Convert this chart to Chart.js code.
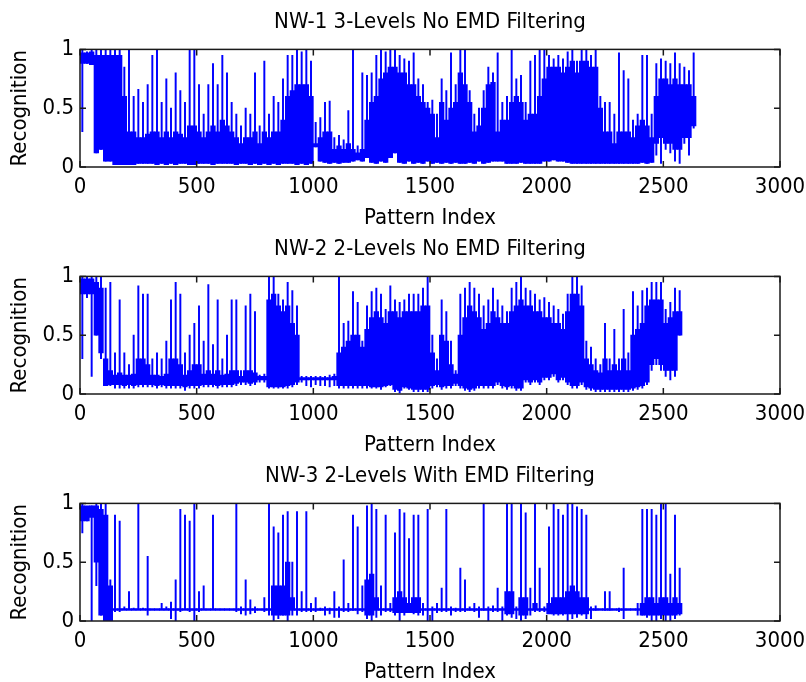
<!DOCTYPE html>
<html>
<head>
<meta charset="utf-8">
<title>Recognition per pattern index</title>
<script src="https://cdn.jsdelivr.net/npm/chart.js@4.4.1/dist/chart.umd.min.js"></script>
<style>
  body {
    margin: 0;
    background: #ffffff;
  }
  .panel {
    position: absolute;
    left: 0;
    width: 806px;
    height: 227px;
  }
</style>
</head>
<body>
<div class="panel" style="top:0px"><canvas id="nw1" width="806" height="227"></canvas></div>
<div class="panel" style="top:227px"><canvas id="nw2" width="806" height="227"></canvas></div>
<div class="panel" style="top:454px"><canvas id="nw3" width="806" height="227"></canvas></div>
<script>
// one entry per bin of 20 patterns:
//   peak / dip  = highest and lowest recognition reached inside the bin
//   bandTop / bandBottom = the range the trace fills solidly inside the bin
const binSize = 20;

const xTickValues = [0, 500, 1000, 1500, 2000, 2500, 3000];
const yTickValues = [0, 0.5, 1];
const yTickLabels = ["0", "0.5", "1"];

const panelTitles = [
  "NW-1 3-Levels No EMD Filtering",
  "NW-2 2-Levels No EMD Filtering",
  "NW-3 2-Levels With EMD Filtering",
];

const nw1Peak = [
  1.0, 0.98, 1.0, 1.0, 1.0, 1.0, 1.0, 1.0, 1.0, 0.85,
  1.0, 0.6, 0.66, 0.55, 0.7, 0.95, 1.0, 0.55, 0.75, 0.5,
  0.8, 0.65, 0.55, 1.0, 1.0, 0.7, 0.45, 0.7, 0.88, 0.7,
  0.95, 0.8, 0.55, 0.45, 0.35, 0.5, 0.45, 0.8, 0.35, 0.9,
  0.45, 0.6, 0.55, 0.75, 0.95, 0.95, 1.0, 0.98, 1.0, 0.9,
  0.38, 0.42, 0.55, 0.56, 0.25, 0.27, 0.23, 0.48, 1.0, 0.18,
  0.8, 0.78, 0.8, 0.95, 1.0, 0.98, 1.0, 1.0, 0.95, 0.92,
  0.9, 0.97, 0.75, 0.7, 0.55, 0.57, 0.45, 0.75, 0.65, 0.97,
  0.7, 1.0, 1.0, 0.65, 0.45, 0.5, 0.65, 0.85, 0.8, 0.97,
  0.55, 0.6, 1.0, 0.75, 0.78, 0.55, 0.9, 0.95, 1.0, 1.0,
  0.95, 0.92, 0.95, 0.92, 0.98, 1.0, 0.9, 1.0, 1.0, 0.95,
  1.0, 0.6, 0.55, 0.55, 0.45, 0.97, 0.82, 0.75, 0.4, 0.45,
  0.95, 0.95, 0.45, 0.88, 0.92, 0.9, 0.88, 0.97, 0.88, 0.85,
  0.82, 0.97,
];
const nw1BandTop = [
  0.97, 0.97, 0.98, 0.95, 0.95, 0.95, 0.95, 0.95, 0.95, 0.6,
  0.3, 0.3, 0.25, 0.25, 0.28, 0.3, 0.3, 0.25, 0.3, 0.25,
  0.3, 0.28, 0.25, 0.35, 0.35, 0.3, 0.25, 0.3, 0.35, 0.3,
  0.4, 0.35, 0.3, 0.25, 0.2, 0.25, 0.25, 0.3, 0.2, 0.3,
  0.25, 0.3, 0.3, 0.4, 0.6, 0.65, 0.7, 0.7, 0.7, 0.6,
  0.2, 0.25, 0.3, 0.3, 0.15, 0.18, 0.15, 0.2, 0.15, 0.12,
  0.15, 0.4, 0.55, 0.6, 0.75, 0.8, 0.85, 0.85, 0.8, 0.8,
  0.7, 0.7, 0.6, 0.55, 0.5, 0.45, 0.25, 0.55, 0.4, 0.5,
  0.55, 0.8, 0.7, 0.55, 0.3, 0.35, 0.5, 0.7, 0.72, 0.3,
  0.4, 0.4, 0.55, 0.6, 0.55, 0.4, 0.45, 0.45, 0.6, 0.75,
  0.85, 0.85, 0.85, 0.8, 0.85, 0.9, 0.8, 0.9, 0.9, 0.85,
  0.85, 0.5, 0.3, 0.3, 0.2, 0.3, 0.3, 0.3, 0.25, 0.35,
  0.4, 0.35, 0.25, 0.6, 0.75, 0.75, 0.7, 0.75, 0.7, 0.7,
  0.7, 0.6,
];
const nw1BandBottom = [
  0.88, 0.88, 0.87, 0.12, 0.15, 0.05, 0.05, 0.02, 0.02, 0.02,
  0.02, 0.02, 0.03, 0.03, 0.03, 0.03, 0.02, 0.03, 0.02, 0.03,
  0.02, 0.03, 0.03, 0.02, 0.02, 0.03, 0.03, 0.03, 0.02, 0.03,
  0.03, 0.03, 0.03, 0.02, 0.03, 0.03, 0.02, 0.03, 0.02, 0.03,
  0.02, 0.03, 0.02, 0.03, 0.03, 0.03, 0.02, 0.03, 0.02, 0.03,
  0.17, 0.05, 0.04, 0.03, 0.04, 0.03, 0.04, 0.04, 0.05, 0.06,
  0.05, 0.08, 0.04, 0.03, 0.05, 0.04, 0.08, 0.12, 0.04, 0.03,
  0.05, 0.03, 0.04, 0.03, 0.05, 0.03, 0.04, 0.03, 0.04, 0.03,
  0.04, 0.03, 0.03, 0.04, 0.03, 0.05, 0.03, 0.04, 0.05, 0.05,
  0.05, 0.03, 0.03, 0.03, 0.04, 0.03, 0.03, 0.03, 0.03, 0.05,
  0.05, 0.06, 0.05, 0.05, 0.04, 0.03, 0.03, 0.03, 0.03, 0.03,
  0.03, 0.03, 0.03, 0.03, 0.03, 0.03, 0.03, 0.03, 0.03, 0.03,
  0.04, 0.03, 0.04, 0.2, 0.25, 0.2, 0.2, 0.15, 0.15, 0.25,
  0.25, 0.35,
];
const nw1Dip = [
  0.3, 0.88, 0.87, 0.12, 0.15, 0.05, 0.05, 0.02, 0.02, 0.02,
  0.02, 0.02, 0.03, 0.03, 0.03, 0.03, 0.02, 0.03, 0.02, 0.03,
  0.02, 0.03, 0.03, 0.02, 0.02, 0.03, 0.03, 0.03, 0.02, 0.03,
  0.03, 0.03, 0.03, 0.02, 0.03, 0.03, 0.02, 0.03, 0.02, 0.03,
  0.02, 0.03, 0.02, 0.03, 0.03, 0.03, 0.02, 0.03, 0.02, 0.03,
  0.17, 0.05, 0.04, 0.03, 0.04, 0.03, 0.04, 0.04, 0.05, 0.06,
  0.05, 0.08, 0.04, 0.03, 0.05, 0.04, 0.08, 0.12, 0.04, 0.03,
  0.05, 0.03, 0.04, 0.03, 0.05, 0.03, 0.04, 0.03, 0.04, 0.03,
  0.04, 0.03, 0.03, 0.04, 0.03, 0.05, 0.03, 0.04, 0.05, 0.05,
  0.05, 0.03, 0.03, 0.03, 0.04, 0.03, 0.03, 0.03, 0.03, 0.05,
  0.05, 0.06, 0.05, 0.05, 0.04, 0.03, 0.03, 0.03, 0.03, 0.03,
  0.03, 0.03, 0.03, 0.03, 0.03, 0.03, 0.03, 0.03, 0.03, 0.03,
  0.04, 0.03, 0.04, 0.1, 0.03, 0.15, 0.12, 0.05, 0.03, 0.2,
  0.1, 0.33,
];

const nw2Peak = [
  1.0, 1.0, 1.0, 1.0, 1.0, 0.9, 0.95, 0.35, 0.8, 0.35,
  0.25, 0.5, 0.92, 0.85, 0.85, 0.3, 0.35, 0.3, 0.45, 0.8,
  0.95, 0.85, 0.35, 0.5, 0.6, 0.75, 0.45, 0.93, 0.42, 0.8,
  0.3, 0.5, 0.8, 0.8, 0.2, 0.75, 0.85, 0.7, 0.16, 0.17,
  1.0, 1.0, 0.85, 0.8, 0.95, 0.88, 0.75, 0.15, 0.15, 0.15,
  0.15, 0.15, 0.15, 0.16, 0.17, 1.0, 0.6, 0.62, 0.87, 0.78,
  0.45, 0.75, 0.87, 0.9, 0.85, 0.72, 0.92, 0.8, 0.78, 0.8,
  0.85, 0.85, 0.85, 0.9, 1.0, 0.5, 0.3, 0.8, 0.7, 0.45,
  0.2, 0.85, 0.9, 0.95, 0.9, 0.85, 0.75, 0.8, 0.9, 0.8,
  0.75, 0.7, 0.9, 0.95, 1.0, 0.9, 0.88, 0.85, 0.8, 0.82,
  0.78, 0.75, 0.72, 0.68, 0.85, 1.0, 1.0, 0.92, 0.45, 0.4,
  0.3, 0.25, 0.6, 0.3, 0.55, 0.3, 0.72, 0.35, 0.87, 0.75,
  0.88, 0.9, 0.95, 0.95, 0.95, 0.72, 0.78, 0.9, 0.88,
];
const nw2BandTop = [
  0.98, 0.98, 0.98, 0.95, 0.9, 0.3, 0.2, 0.16, 0.18, 0.16,
  0.16, 0.17, 0.3, 0.3, 0.25, 0.16, 0.16, 0.15, 0.17, 0.3,
  0.3, 0.25, 0.16, 0.2, 0.25, 0.25, 0.17, 0.2, 0.17, 0.2,
  0.16, 0.17, 0.2, 0.2, 0.15, 0.2, 0.2, 0.18, 0.15, 0.15,
  0.8, 0.85, 0.75, 0.7, 0.75, 0.6, 0.5, 0.14, 0.14, 0.14,
  0.14, 0.14, 0.14, 0.14, 0.15, 0.35, 0.4, 0.45, 0.5, 0.5,
  0.4, 0.55, 0.65, 0.7, 0.65, 0.6, 0.7, 0.7, 0.65, 0.7,
  0.7, 0.7, 0.7, 0.75, 0.75, 0.35, 0.2, 0.5, 0.45, 0.25,
  0.17, 0.5, 0.65, 0.75, 0.7, 0.65, 0.55, 0.6, 0.7, 0.65,
  0.6, 0.6, 0.7, 0.75, 0.8, 0.75, 0.75, 0.7, 0.7, 0.65,
  0.65, 0.6, 0.6, 0.55, 0.7, 0.85, 0.85, 0.75, 0.3, 0.25,
  0.2, 0.18, 0.3, 0.2, 0.25, 0.2, 0.3, 0.2, 0.5, 0.55,
  0.6, 0.75, 0.8, 0.8, 0.8, 0.6, 0.65, 0.7, 0.7,
];
const nw2BandBottom = [
  0.85, 0.85, 0.85, 0.5, 0.35, 0.07, 0.08, 0.08, 0.08, 0.07,
  0.08, 0.07, 0.08, 0.08, 0.08, 0.08, 0.07, 0.08, 0.07, 0.07,
  0.07, 0.07, 0.06, 0.07, 0.07, 0.07, 0.08, 0.08, 0.08, 0.07,
  0.08, 0.08, 0.08, 0.09, 0.1, 0.1, 0.09, 0.1, 0.12, 0.12,
  0.06, 0.06, 0.06, 0.06, 0.07, 0.08, 0.1, 0.12, 0.12, 0.12,
  0.12, 0.12, 0.12, 0.12, 0.12, 0.07, 0.07, 0.07, 0.07, 0.07,
  0.07, 0.07, 0.06, 0.06, 0.06, 0.07, 0.08, 0.04, 0.03, 0.06,
  0.05, 0.04, 0.04, 0.04, 0.04, 0.07, 0.08, 0.06, 0.07, 0.07,
  0.09, 0.07, 0.05, 0.04, 0.05, 0.07, 0.07, 0.07, 0.07, 0.1,
  0.07, 0.06, 0.07, 0.05, 0.05, 0.12, 0.1, 0.12, 0.1, 0.14,
  0.14, 0.17, 0.12, 0.14, 0.1, 0.07, 0.07, 0.1, 0.06, 0.05,
  0.04, 0.04, 0.04, 0.04, 0.04, 0.04, 0.04, 0.04, 0.05, 0.06,
  0.07, 0.1, 0.25, 0.3, 0.25, 0.2, 0.2, 0.2, 0.5,
];
const nw2Dip = [
  0.3, 0.82, 0.15, 0.5, 0.3, 0.07, 0.07, 0.05, 0.05, 0.05,
  0.05, 0.05, 0.06, 0.06, 0.06, 0.06, 0.05, 0.06, 0.05, 0.05,
  0.05, 0.05, 0.03, 0.05, 0.05, 0.05, 0.06, 0.06, 0.06, 0.05,
  0.06, 0.06, 0.06, 0.07, 0.08, 0.08, 0.07, 0.08, 0.1, 0.1,
  0.05, 0.05, 0.05, 0.05, 0.05, 0.06, 0.08, 0.1, 0.07, 0.06,
  0.08, 0.07, 0.07, 0.06, 0.07, 0.05, 0.05, 0.05, 0.05, 0.05,
  0.05, 0.05, 0.05, 0.05, 0.04, 0.06, 0.07, 0.02, 0.01, 0.05,
  0.04, 0.02, 0.02, 0.02, 0.02, 0.05, 0.06, 0.04, 0.05, 0.05,
  0.07, 0.05, 0.03, 0.02, 0.03, 0.05, 0.05, 0.05, 0.05, 0.08,
  0.05, 0.04, 0.05, 0.03, 0.03, 0.1, 0.08, 0.1, 0.08, 0.12,
  0.12, 0.15, 0.1, 0.12, 0.08, 0.05, 0.05, 0.08, 0.04, 0.03,
  0.02, 0.02, 0.02, 0.02, 0.02, 0.02, 0.02, 0.02, 0.03, 0.04,
  0.05, 0.08, 0.2, 0.25, 0.2, 0.15, 0.12, 0.15, 0.5,
];

const nw3Peak = [
  1.0, 0.95, 0.98, 1.0, 1.0, 1.0, 0.35, 0.9, 0.85, 0.12,
  0.25, 0.11, 1.0, 0.11, 0.55, 0.1, 0.1, 0.15, 0.12, 0.16,
  0.35, 0.95, 0.9, 0.85, 1.0, 0.25, 0.3, 0.1, 0.9, 0.1,
  0.1, 0.1, 0.1, 1.0, 0.12, 0.35, 0.18, 0.12, 0.1, 0.2,
  1.0, 0.8, 0.75, 0.9, 0.93, 0.5, 0.93, 0.25, 0.93, 0.15,
  0.2, 0.11, 0.12, 0.11, 0.25, 0.12, 0.52, 0.15, 0.9, 0.8,
  0.3, 0.98, 1.0, 0.95, 0.3, 0.9, 0.15, 0.75, 0.95, 0.92,
  0.7, 0.9, 0.9, 0.15, 0.95, 0.12, 0.15, 0.28, 0.95, 0.12,
  0.11, 0.45, 0.35, 0.12, 0.15, 0.12, 1.0, 0.12, 0.13, 0.28,
  0.12, 1.0, 1.0, 0.12, 1.0, 0.92, 0.28, 1.0, 0.45, 0.12,
  0.8, 1.0, 0.95, 0.9, 1.0, 1.0, 0.97, 0.95, 0.9, 0.12,
  0.13, 0.1, 0.25, 0.25, 0.1, 0.11, 0.45, 0.1, 0.1, 0.15,
  0.95, 0.95, 0.95, 0.9, 1.0, 1.0, 0.4, 0.9, 0.45,
];
const nw3BandTop = [
  0.98, 0.98, 0.98, 0.98, 0.95, 0.9, 0.3, 0.105, 0.105, 0.105,
  0.105, 0.105, 0.105, 0.105, 0.105, 0.105, 0.105, 0.105, 0.105, 0.105,
  0.105, 0.105, 0.105, 0.105, 0.105, 0.105, 0.105, 0.105, 0.105, 0.105,
  0.105, 0.105, 0.105, 0.105, 0.105, 0.105, 0.105, 0.105, 0.105, 0.105,
  0.105, 0.3, 0.3, 0.3, 0.5, 0.2, 0.105, 0.105, 0.105, 0.105,
  0.105, 0.105, 0.105, 0.105, 0.105, 0.105, 0.105, 0.105, 0.105, 0.105,
  0.105, 0.35, 0.4, 0.2, 0.105, 0.105, 0.105, 0.2, 0.25, 0.2,
  0.15, 0.2, 0.2, 0.105, 0.105, 0.105, 0.105, 0.105, 0.105, 0.105,
  0.105, 0.105, 0.105, 0.105, 0.105, 0.105, 0.105, 0.105, 0.105, 0.105,
  0.105, 0.25, 0.25, 0.105, 0.2, 0.2, 0.105, 0.15, 0.105, 0.105,
  0.15, 0.2, 0.2, 0.2, 0.25, 0.3, 0.25, 0.2, 0.2, 0.105,
  0.105, 0.105, 0.105, 0.105, 0.105, 0.105, 0.105, 0.105, 0.105, 0.105,
  0.15, 0.2, 0.2, 0.15, 0.2, 0.2, 0.15, 0.2, 0.15,
];
const nw3BandBottom = [
  0.85, 0.85, 0.88, 0.5, 0.05, 0.0, 0.0, 0.09, 0.09, 0.09,
  0.09, 0.09, 0.09, 0.09, 0.09, 0.09, 0.09, 0.09, 0.09, 0.09,
  0.09, 0.09, 0.09, 0.09, 0.09, 0.09, 0.09, 0.09, 0.09, 0.09,
  0.09, 0.09, 0.09, 0.09, 0.09, 0.09, 0.09, 0.09, 0.09, 0.09,
  0.09, 0.05, 0.05, 0.05, 0.05, 0.09, 0.09, 0.09, 0.09, 0.09,
  0.09, 0.09, 0.09, 0.09, 0.09, 0.09, 0.09, 0.09, 0.09, 0.09,
  0.09, 0.05, 0.05, 0.09, 0.09, 0.09, 0.09, 0.07, 0.07, 0.07,
  0.07, 0.07, 0.07, 0.09, 0.09, 0.09, 0.09, 0.09, 0.09, 0.09,
  0.09, 0.09, 0.09, 0.09, 0.09, 0.09, 0.09, 0.09, 0.09, 0.09,
  0.09, 0.06, 0.06, 0.09, 0.05, 0.05, 0.09, 0.09, 0.09, 0.09,
  0.06, 0.06, 0.06, 0.06, 0.06, 0.06, 0.06, 0.06, 0.06, 0.09,
  0.09, 0.09, 0.09, 0.09, 0.09, 0.09, 0.09, 0.09, 0.09, 0.09,
  0.05, 0.05, 0.05, 0.05, 0.05, 0.05, 0.05, 0.05, 0.06,
];
const nw3Dip = [
  0.75, 0.85, 0.0, 0.3, 0.05, 0.0, 0.0, 0.08, 0.08, 0.1,
  0.1, 0.1, 0.1, 0.1, 0.05, 0.1, 0.1, 0.1, 0.1, 0.02,
  0.0, 0.08, 0.1, 0.08, 0.0, 0.08, 0.1, 0.1, 0.1, 0.1,
  0.1, 0.1, 0.1, 0.08, 0.06, 0.05, 0.06, 0.07, 0.1, 0.08,
  0.05, 0.0, 0.02, 0.05, 0.0, 0.05, 0.05, 0.08, 0.08, 0.08,
  0.08, 0.09, 0.05, 0.06, 0.03, 0.03, 0.08, 0.08, 0.09, 0.06,
  0.08, 0.02, 0.0, 0.03, 0.05, 0.08, 0.08, 0.05, 0.0, 0.05,
  0.08, 0.06, 0.05, 0.05, 0.0, 0.0, 0.07, 0.08, 0.08, 0.05,
  0.08, 0.08, 0.08, 0.09, 0.08, 0.03, 0.09, 0.0, 0.08, 0.08,
  0.0, 0.05, 0.03, 0.02, 0.0, 0.02, 0.05, 0.08, 0.08, 0.08,
  0.08, 0.05, 0.05, 0.05, 0.0, 0.02, 0.03, 0.05, 0.02, 0.02,
  0.09, 0.1, 0.09, 0.09, 0.1, 0.08, 0.02, 0.1, 0.1, 0.05,
  0.05, 0.03, 0.0, 0.0, 0.02, 0.0, 0.0, 0.02, 0.05,
];

const fontFamily = "'Liberation Sans Narrow', 'DejaVu Sans Condensed', 'Arial Narrow', sans-serif";
const textColor = "#000000";
const traceColor = "#0000ff";

// MATLAB style frame: box round the plot area, ticks pointing inwards on all four sides
const axesBox = {
  id: "axesBox",
  afterDraw: function (chart) {
    const ctx = chart.ctx;
    const area = chart.chartArea;
    const xScale = chart.scales.x;
    const yScale = chart.scales.y;
    const tickLength = 6;

    ctx.save();
    ctx.strokeStyle = "#1a1a1a";
    ctx.lineWidth = 1.5;
    ctx.beginPath();
    xScale.ticks.forEach(function (tick) {
      const px = xScale.getPixelForValue(tick.value);
      ctx.moveTo(px, area.bottom);
      ctx.lineTo(px, area.bottom - tickLength);
      ctx.moveTo(px, area.top);
      ctx.lineTo(px, area.top + tickLength);
    });
    yScale.ticks.forEach(function (tick) {
      const py = yScale.getPixelForValue(tick.value);
      ctx.moveTo(area.left, py);
      ctx.lineTo(area.left + tickLength, py);
      ctx.moveTo(area.right, py);
      ctx.lineTo(area.right - tickLength, py);
    });
    ctx.stroke();
    ctx.strokeRect(area.left, area.top, area.right - area.left, area.bottom - area.top);
    ctx.restore();
  },
};

function rangePoints(bottom, top) {
  return top.map(function (value, index) {
    return { x: index * binSize + binSize / 2, y: [bottom[index], value] };
  });
}

function textFont(lineHeight) {
  return { family: fontFamily, size: 22, weight: "normal", lineHeight: lineHeight };
}

function renderPanel(canvasId, title, peak, bandTop, bandBottom, dip) {
  return new Chart(document.getElementById(canvasId), {
    type: "bar",
    data: {
      datasets: [
        {
          // solid part of the trace
          data: rangePoints(bandBottom, bandTop),
          backgroundColor: traceColor,
          borderWidth: 0,
          grouped: false,
          barPercentage: 1,
          categoryPercentage: 1,
        },
        {
          // single spikes up to the peak and down to the dip
          data: rangePoints(dip, peak),
          backgroundColor: traceColor,
          borderWidth: 0,
          grouped: false,
          barThickness: 1.3,
        },
      ],
    },
    plugins: [axesBox],
    options: {
      responsive: false,
      animation: false,
      devicePixelRatio: 1,
      events: [],
      layout: {
        padding: { left: 0, right: 26, top: 0, bottom: 0 },
      },
      plugins: {
        legend: { display: false },
        tooltip: { enabled: false },
        title: {
          display: true,
          text: title,
          fullSize: false,
          color: textColor,
          font: textFont(1.2),
          padding: { top: 9, bottom: 14 },
        },
      },
      scales: {
        x: {
          type: "linear",
          min: 0,
          max: 3000,
          offset: false,
          afterBuildTicks: function (scale) {
            scale.ticks = xTickValues.map(function (value) {
              return { value: value };
            });
          },
          afterFit: function (scale) {
            scale.height = 60;
            scale.paddingLeft = 0;
            scale.paddingRight = 0;
          },
          grid: { display: false, drawTicks: false, offset: false },
          border: { display: false },
          ticks: {
            color: textColor,
            font: textFont(1.2),
            padding: 7,
            maxRotation: 0,
            autoSkip: false,
            callback: function (value) {
              return String(value);
            },
          },
          title: {
            display: true,
            text: "Pattern Index",
            color: textColor,
            font: textFont(1),
            padding: { top: 0, bottom: -2 },
          },
        },
        y: {
          type: "linear",
          min: 0,
          max: 1,
          afterBuildTicks: function (scale) {
            scale.ticks = yTickValues.map(function (value) {
              return { value: value };
            });
          },
          afterFit: function (scale) {
            scale.width = 80;
            scale.paddingTop = 0;
            scale.paddingBottom = 0;
          },
          grid: { display: false, drawTicks: false },
          border: { display: false },
          ticks: {
            color: textColor,
            font: textFont(1.2),
            padding: 6,
            callback: function (value) {
              return yTickLabels[yTickValues.indexOf(value)];
            },
          },
          title: {
            display: true,
            text: "Recognition",
            color: textColor,
            font: textFont(1),
            padding: { top: 9, bottom: 0 },
          },
        },
      },
    },
  });
}

renderPanel("nw1", panelTitles[0], nw1Peak, nw1BandTop, nw1BandBottom, nw1Dip);
renderPanel("nw2", panelTitles[1], nw2Peak, nw2BandTop, nw2BandBottom, nw2Dip);
renderPanel("nw3", panelTitles[2], nw3Peak, nw3BandTop, nw3BandBottom, nw3Dip);
</script>
</body>
</html>
